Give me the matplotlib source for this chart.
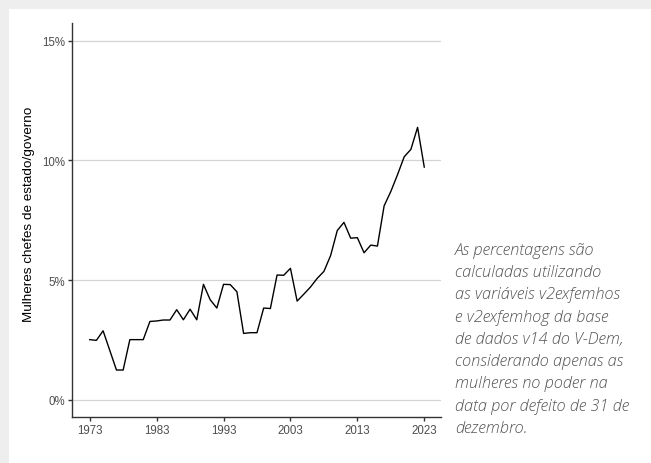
import numpy as np
import matplotlib.pyplot as plt
from matplotlib.patches import Rectangle

years = list(range(1973, 2024))
share = [2.51, 2.48, 2.88, 2.06, 1.24, 1.24, 2.51, 2.51, 2.51, 3.27,
         3.29, 3.33, 3.33, 3.76, 3.34, 3.78, 3.34, 4.82, 4.18, 3.83,
         4.82, 4.81, 4.51, 2.77, 2.80, 2.80, 3.83, 3.81, 5.21, 5.20,
         5.49, 4.12, 4.41, 4.71, 5.07, 5.36, 6.02, 7.07, 7.41, 6.75,
         6.77, 6.14, 6.46, 6.42, 8.10, 8.70, 9.40, 10.15, 10.46, 11.38,
         9.72]
xticks = [1973, 1983, 1993, 2003, 2013, 2023]
yticks = [0, 5, 10, 15]

caption = ("As percentagens são\ncalculadas utilizando\nas variáveis v2exfemhos\n"
           "e v2exfemhog da base\nde dados v14 do V-Dem,\nconsiderando apenas as\n"
           "mulheres no poder na\ndata por defeito de 31 de\ndezembro.")

fig = plt.figure(figsize=(6.51, 4.64), dpi=100)
fig.patch.set_facecolor('#eeeeee')
fig.patches.append(Rectangle((9 / 651, 0), 1, (464 - 10) / 464,
                             transform=fig.transFigure, facecolor='white',
                             edgecolor='none', zorder=-1))

ax = fig.add_axes([72.3 / 651, 45.7 / 464, 368.7 / 651, 394.3 / 464])
ax.set_zorder(2)
ax.set_facecolor('white')
ax.plot(years, share, color='black', lw=1.0)

ax.set_xlim(1970.4, 2025.5)
ax.set_ylim(-0.735, 15.74)
ax.set_xticks(xticks)
ax.set_yticks(yticks)
ax.set_yticklabels([f'{v}%' for v in yticks])
ax.grid(axis='y', color='#d4d4d4', lw=0.9)
ax.set_axisbelow(True)
for s in ['top', 'right']:
    ax.spines[s].set_visible(False)
for s in ['left', 'bottom']:
    ax.spines[s].set_color('#333333')
    ax.spines[s].set_linewidth(1.0)
ax.tick_params(length=3, width=1, color='#333333', labelcolor='#4d4d4d',
               labelsize=8.3, pad=2)
for lab in ax.get_xticklabels() + ax.get_yticklabels():
    lab.set_family('Liberation Sans')

ax.set_ylabel('Mulheres chefes de estado/governo', family='Liberation Sans',
              fontsize=9.7, color='black')
ax.yaxis.set_label_coords(-0.101, 0.517)

fig.text(455 / 651, 1 - 243 / 464, caption, family='Open Sans', style='italic',
         weight='light', fontsize=11.8, color='#555555', va='top', ha='left',
         linespacing=1.52, zorder=3)

fig.savefig('out.png', dpi=100)
